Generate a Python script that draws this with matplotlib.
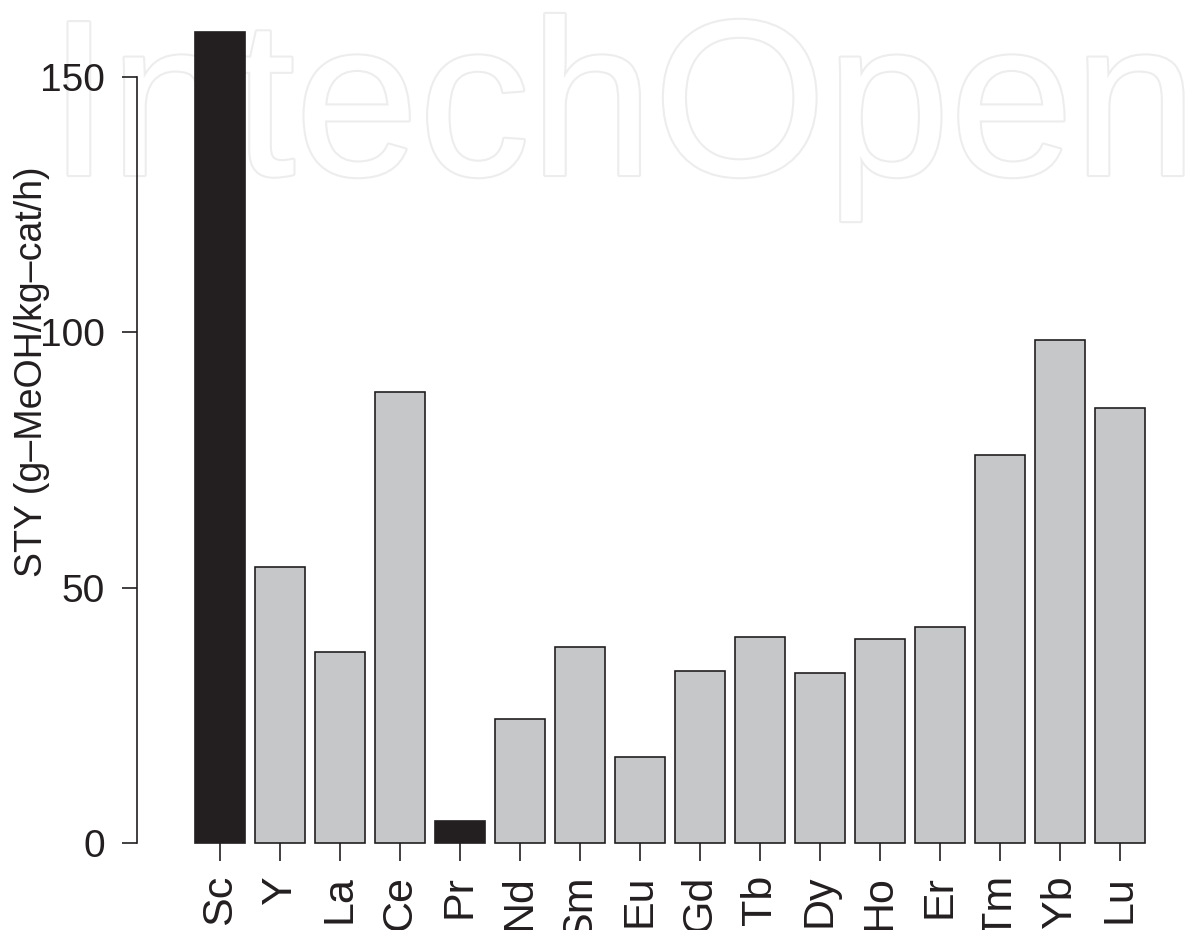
import matplotlib
matplotlib.use("Agg")
import matplotlib.pyplot as plt
import matplotlib.patheffects as pe

elements = ["Sc", "Y", "La", "Ce", "Pr", "Nd", "Sm", "Eu", "Gd", "Tb",
            "Dy", "Ho", "Er", "Tm", "Yb", "Lu"]
sty = [158.8, 54.0, 37.4, 88.3, 4.3, 24.3, 38.4, 16.8, 33.7, 40.3,
       33.3, 39.9, 42.3, 76.0, 98.5, 85.2]
highlight = ["Sc", "Pr"]
y_ticks = [0, 50, 100, 150]

plt.rcParams['font.family'] = ['Liberation Sans', 'DejaVu Sans']

W, H = 1199, 930
fig = plt.figure(figsize=(W / 100, H / 100), dpi=100)
fig.patch.set_facecolor('white')

left_px, right_px, bottom_px, top_px = 137, 1160, 843, 20
ax = fig.add_axes([left_px / W, 1 - bottom_px / H,
                   (right_px - left_px) / W, (bottom_px - top_px) / H])
ax.set_facecolor('none')

# watermark
ax.text(48 / W, 1 - 175 / H, "IntechOpen", transform=fig.transFigure,
        fontsize=160, fontfamily='Liberation Sans',
        color='white', ha='left', va='baseline', zorder=0, clip_on=False,
        path_effects=[pe.Stroke(linewidth=3.0, foreground='#ededed'), pe.Normal()])

x = list(range(len(elements)))
colors = ['#231f20' if e in highlight else '#c6c7c9' for e in elements]
ax.bar(x, sty, width=50 / 60, color=colors, edgecolor='#231f20',
       linewidth=1.2, zorder=2, clip_on=False)

px_per_unit = 60
ax.set_xlim((left_px - 220) / px_per_unit, (right_px - 220) / px_per_unit)
ax.set_ylim(0, (bottom_px - top_px) / 5.107)

for s in ['top', 'right', 'bottom']:
    ax.spines[s].set_visible(False)
ax.spines['left'].set_bounds(0, 150)
ax.spines['left'].set_linewidth(1.2)
ax.spines['left'].set_color('#231f20')

ax.set_yticks(y_ticks)
ax.set_yticklabels([str(v) for v in y_ticks])
ax.set_xticks(x)
ax.set_xticklabels(elements, rotation=90, va='top', ha='center')
ax.tick_params(axis='y', length=11, width=1.2, pad=12, labelsize=28,
               color='#231f20', labelcolor='#231f20')
ax.tick_params(axis='x', length=13, width=1.2, pad=10, labelsize=31,
               color='#231f20', labelcolor='#231f20')

fig.text(32 / W, 1 - 372 / H, "STY (g–MeOH/kg–cat/h)", rotation=90,
         ha='center', va='center', fontsize=27, color='#231f20')

fig.savefig("out.png", dpi=100)
